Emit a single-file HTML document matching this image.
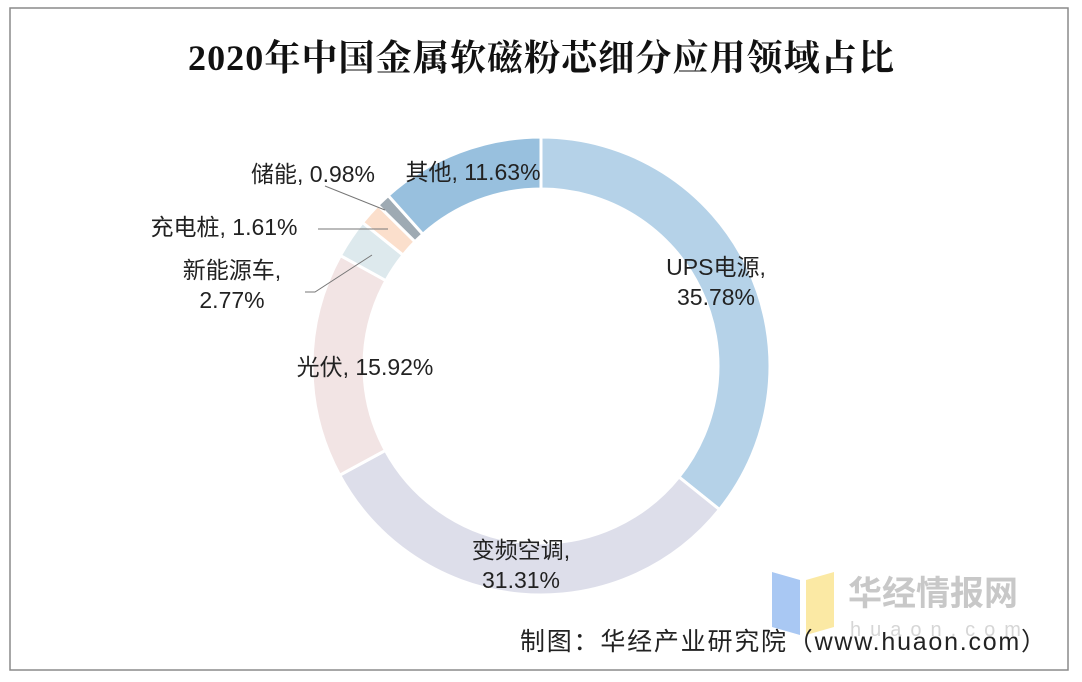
<!DOCTYPE html>
<html><head><meta charset="utf-8"><style>
body{margin:0;background:#fff;}
svg{display:block;font-family:"Liberation Sans","Noto Sans CJK SC",sans-serif;}
</style></head><body>
<svg id="c" width="1082" height="682">
<rect x="10" y="8" width="1058" height="662" fill="#fff" stroke="#8a8a8a" stroke-width="1.5"/>
<text x="541" y="70" text-anchor="middle" font-family="'Liberation Serif','Noto Serif CJK SC',serif" font-weight="bold" font-size="36" textLength="706" fill="#111">2020年中国金属软磁粉芯细分应用领域占比</text>
<g id="slices"></g>
<g id="labels" font-size="23" fill="#222"></g>
<line x1="325" y1="186" x2="385" y2="210" stroke="#777"/>
<line x1="318" y1="229" x2="388" y2="229" stroke="#777"/>
<path d="M305 292 L315 292 L372 255" fill="none" stroke="#777"/>
<g>
<polygon points="772,572 800,580 800,635 772,627" fill="#a9c8f3"/>
<polygon points="806,580 834,572 834,627 806,635" fill="#fbe9a4"/>
<text x="848" y="605" font-size="34" font-weight="bold" fill="#c8c8c8">华经情报网</text>
<text x="850" y="636" font-size="20" fill="#d6d6d6" letter-spacing="9">huaon.com</text>
</g>
<text x="1046" y="650" text-anchor="end" font-size="25" textLength="526" fill="#222">制图：华经产业研究院（www.huaon.com）</text>
</svg>
<script>
const categories=["UPS电源","变频空调","光伏","新能源车","充电桩","储能","其他"];
const values=[35.78,31.31,15.92,2.77,1.61,0.98,11.63];
const colors=["#b5d2e8","#dddeea","#f2e4e4","#dde9ed","#fbdfcc","#9eaab3","#98c0de"];
const labelText=[["UPS电源,","35.78%"],["变频空调,","31.31%"],["光伏, 15.92%"],["新能源车,","2.77%"],["充电桩, 1.61%"],["储能, 0.98%"],["其他, 11.63%"]];
const labelPos=[[716,275],[521,558],[365,375],[232,278],[224,235],[313,182],[473,180]];
const cx=541,cy=366,R=229,r=177,NS="http://www.w3.org/2000/svg";
const total=values.reduce((a,b)=>a+b,0);
function pt(a,rad){return [cx+rad*Math.sin(a),cy-rad*Math.cos(a)];}
let a0=0;const g=document.getElementById('slices');
values.forEach((v,i)=>{
 const a1=a0+v/total*2*Math.PI;
 const [x1,y1]=pt(a0,R),[x2,y2]=pt(a1,R),[x3,y3]=pt(a1,r),[x4,y4]=pt(a0,r);
 const lg=(a1-a0)>Math.PI?1:0;
 const p=document.createElementNS(NS,'path');
 p.setAttribute('d',`M${x1} ${y1}A${R} ${R} 0 ${lg} 1 ${x2} ${y2}L${x3} ${y3}A${r} ${r} 0 ${lg} 0 ${x4} ${y4}Z`);
 p.setAttribute('fill',colors[i]);p.setAttribute('stroke','#fff');p.setAttribute('stroke-width','3');
 
 
 g.appendChild(p);a0=a1;
});
const lg2=document.getElementById('labels');
labelText.forEach((lines,i)=>{
 const t=document.createElementNS(NS,'text');
 t.setAttribute('x',labelPos[i][0]);t.setAttribute('y',labelPos[i][1]);t.setAttribute('text-anchor','middle');
 
 
 lines.forEach((s,j)=>{const ts=document.createElementNS(NS,'tspan');ts.setAttribute('x',labelPos[i][0]);ts.setAttribute('dy',j?30:0);ts.textContent=s;t.appendChild(ts);});
 lg2.appendChild(t);
});
</script>
</body></html>
